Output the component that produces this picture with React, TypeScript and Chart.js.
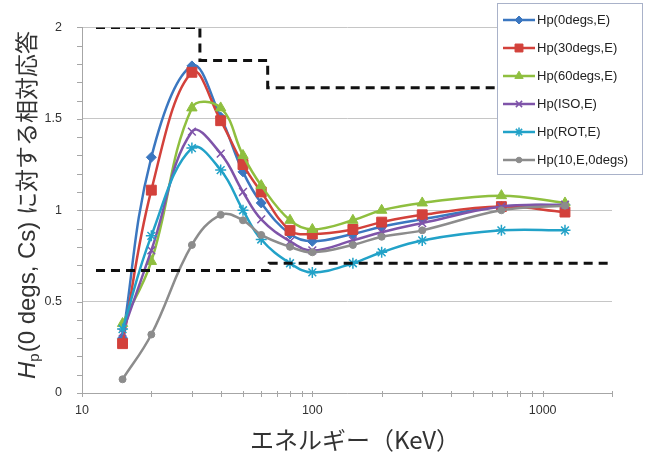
import React, { useEffect, useRef } from 'react';
import { Chart, registerables } from 'chart.js';
import { drawPoint } from 'chart.js/helpers';

Chart.register(...registerables);

// Photon energies (keV) at which each response was evaluated
const energies = [15, 20, 30, 40, 50, 60, 80, 100, 150, 200, 300, 662, 1250];

// Relative responses normalised to Hp(0 degs, Cs)
const hp0degs = [0.3, 1.29, 1.79, 1.51, 1.21, 1.04, 0.87, 0.83, 0.87, 0.91, 0.95, 1.02, 1.03];
const hp30degs = [0.27, 1.11, 1.755, 1.49, 1.25, 1.1, 0.89, 0.87, 0.895, 0.935, 0.975, 1.02, 0.99];
const hp60degs = [0.38, 0.72, 1.56, 1.56, 1.3, 1.135, 0.945, 0.895, 0.945, 1.0, 1.04, 1.08, 1.04];
const hpIso = [0.33, 0.78, 1.43, 1.31, 1.1, 0.95, 0.83, 0.78, 0.835, 0.88, 0.93, 1.02, 1.03];
const hpRot = [0.35, 0.86, 1.34, 1.22, 1.0, 0.84, 0.71, 0.66, 0.71, 0.77, 0.835, 0.89, 0.89];
const hp10 = [0.075, 0.32, 0.81, 0.975, 0.945, 0.865, 0.8, 0.77, 0.81, 0.855, 0.89, 1.0, 1.025];

const seriesNames = [
  'Hp(0degs,E)',
  'Hp(30degs,E)',
  'Hp(60degs,E)',
  'Hp(ISO,E)',
  'Hp(ROT,E)',
  'Hp(10,E,0degs)',
];

// Upper and lower tolerance limits (stepped)
const upperLimitE = [11.5, 32.5, 32.5, 64, 64, 2000];
const upperLimitR = [2, 2, 1.82, 1.82, 1.67, 1.67];
const lowerLimitE = [11.5, 65, 65, 2000];
const lowerLimitR = [0.67, 0.67, 0.71, 0.71];

// Axis ranges and labelled ticks
const xMin = 10;
const xMax = 2000;
const xTickValues = [10, 100, 1000];
const yMin = 0;
const yMax = 2;
const yStep = 0.5;
const yMinorStep = 0.1;

const xTitle = 'エネルギー（KeV）';
const yTitleLatin = '(0 degs, Cs) ';
const yTitleJa = 'に対する相対応答';

const seriesValues = [hp0degs, hp30degs, hp60degs, hpIso, hpRot, hp10];

const seriesStyles = [
  { color: '#3b77c0', pointStyle: 'rectRot', radius: 5, pointBorderWidth: 1 },
  { color: '#d3413b', pointStyle: 'rect', radius: 7, pointBorderWidth: 1 },
  { color: '#8fbf3f', pointStyle: 'triangle', radius: 6, pointBorderWidth: 1 },
  { color: '#7f54a9', pointStyle: 'crossRot', radius: 5.5, pointBorderWidth: 1.5 },
  { color: '#22a2c8', pointStyle: 'star', radius: 5.5, pointBorderWidth: 1.5 },
  { color: '#8c8c8c', pointStyle: 'circle', radius: 3.5, pointBorderWidth: 1 },
];

const CJK = '"Noto Sans CJK JP", "Noto Sans", sans-serif';
const LATIN = '"Liberation Sans", "Noto Sans", sans-serif';

const decorPlugin = {
  id: 'decor',
  afterDraw(chart: any) {
    const { ctx, chartArea, scales } = chart;
    const xs = scales.x;
    const ys = scales.y;
    ctx.save();

    // minor tick marks on the y axis
    ctx.strokeStyle = '#a6a6a6';
    ctx.lineWidth = 1;
    ctx.beginPath();
    for (let v = yMin; v <= yMax + 1e-9; v += yMinorStep) {
      const py = Math.round(ys.getPixelForValue(v)) + 0.5;
      ctx.moveTo(chartArea.left - 5, py);
      ctx.lineTo(chartArea.left, py);
    }
    // tick marks on the log x axis
    for (let dec = xMin; dec <= xMax; dec *= 10) {
      for (let m = 1; m <= 9; m++) {
        const v = dec * m;
        if (v > xMax) break;
        const px = Math.round(xs.getPixelForValue(v)) + 0.5;
        ctx.moveTo(px, chartArea.bottom - 2);
        ctx.lineTo(px, chartArea.bottom + 4);
      }
    }
    ctx.stroke();

    // x axis title
    ctx.fillStyle = '#333';
    ctx.font = `24px ${CJK}`;
    ctx.textAlign = 'center';
    ctx.textBaseline = 'middle';
    ctx.fillText(xTitle, 355, 440);

    // y axis title: italic H, subscript p, then the rest
    ctx.save();
    ctx.translate(26, 205);
    ctx.rotate(-Math.PI / 2);
    ctx.textAlign = 'left';
    ctx.textBaseline = 'alphabetic';
    const fH = `italic 24px ${LATIN}`;
    const fP = `15px ${LATIN}`;
    const fL = `24px ${LATIN}`;
    const fJ = `23px ${CJK}`;
    ctx.font = fH;
    const wH = ctx.measureText('H').width;
    ctx.font = fP;
    const wP = ctx.measureText('p').width;
    ctx.font = fL;
    const wL = ctx.measureText(yTitleLatin).width;
    ctx.font = fJ;
    const wJ = ctx.measureText(yTitleJa).width;
    let tx = -(wH + wP + 1 + wL + wJ) / 2;
    ctx.font = fH;
    ctx.fillText('H', tx, 9);
    tx += wH;
    ctx.font = fP;
    ctx.fillText('p', tx, 13);
    tx += wP + 1;
    ctx.font = fL;
    ctx.fillText(yTitleLatin, tx, 9);
    tx += wL;
    ctx.font = fJ;
    ctx.fillText(yTitleJa, tx, 9);
    ctx.restore();

    // legend box on top of the plot
    const bx = 497.5;
    const by = 3.5;
    const bw = 145;
    const bh = 171;
    ctx.fillStyle = '#ffffff';
    ctx.fillRect(bx, by, bw, bh);
    ctx.strokeStyle = '#a9b2c9';
    ctx.lineWidth = 1;
    ctx.strokeRect(bx, by, bw, bh);
    seriesNames.forEach((name, i) => {
      const st = seriesStyles[i];
      const cy = 20 + i * 28;
      ctx.strokeStyle = st.color;
      ctx.fillStyle = st.color;
      ctx.lineWidth = 2.5;
      ctx.beginPath();
      ctx.moveTo(503, cy);
      ctx.lineTo(535, cy);
      ctx.stroke();
      ctx.lineWidth = st.pointBorderWidth;
      drawPoint(ctx, { pointStyle: st.pointStyle, radius: st.radius * 0.8, rotation: 0, borderWidth: st.pointBorderWidth }, 519, cy);
      ctx.fillStyle = '#222';
      ctx.font = `13px ${LATIN}`;
      ctx.textAlign = 'left';
      ctx.textBaseline = 'middle';
      ctx.fillText(name, 537, cy);
    });

    ctx.restore();
  },
};

export default function App() {
  const canvasRef = useRef<HTMLCanvasElement | null>(null);

  useEffect(() => {
    document.body.style.margin = '0';
    const canvas = canvasRef.current;
    if (!canvas) return;

    const seriesSets = seriesValues.map((vals, i) => {
      const st = seriesStyles[i];
      return {
        label: seriesNames[i],
        data: energies.map((e, k) => ({ x: e, y: vals[k] })),
        borderColor: st.color,
        backgroundColor: st.color,
        borderWidth: 2.5,
        pointStyle: st.pointStyle,
        pointRadius: st.radius,
        pointBorderWidth: st.pointBorderWidth,
        pointBackgroundColor: st.color,
        pointBorderColor: st.color,
        tension: 0.4,
        order: seriesValues.length - i,
      };
    });

    const limitStyle = {
      borderColor: '#111',
      borderWidth: 3,
      borderDash: [9, 6],
      pointRadius: 0,
      tension: 0,
      order: 0,
    };

    const chart = new Chart(canvas, {
      type: 'line',
      data: {
        datasets: [
          ...seriesSets,
          {
            label: 'upper',
            data: upperLimitE.map((e, k) => ({ x: e, y: upperLimitR[k] })),
            ...limitStyle,
          },
          {
            label: 'lower',
            data: lowerLimitE.map((e, k) => ({ x: e, y: lowerLimitR[k] })),
            ...limitStyle,
          },
        ] as any,
      },
      options: {
        animation: false,
        responsive: false,
        layout: { padding: { top: 23, right: 34, left: 0, bottom: 0 } },
        plugins: {
          legend: { display: false },
          tooltip: { enabled: false },
        },
        scales: {
          x: {
            type: 'logarithmic',
            min: xMin,
            max: xMax,
            afterBuildTicks: (scale: any) => {
              scale.ticks = xTickValues.map((v) => ({ value: v, major: true }));
            },
            afterFit: (scale: any) => {
              scale.height = 64;
            },
            ticks: {
              callback: (v: any) => String(v),
              color: '#333',
              font: { family: LATIN, size: 12.5 },
              padding: 10,
              maxRotation: 0,
              autoSkip: false,
            },
            grid: { display: false, drawTicks: false },
            border: { display: true, color: '#a6a6a6', width: 1 },
          },
          y: {
            type: 'linear',
            min: yMin,
            max: yMax,
            afterFit: (scale: any) => {
              scale.width = 82;
            },
            ticks: {
              stepSize: yStep,
              callback: (v: any) => String(v),
              color: '#333',
              font: { family: LATIN, size: 12.5 },
              padding: 20,
            },
            grid: { color: '#c6c6c6', lineWidth: 1, drawTicks: false },
            border: { display: true, color: '#a6a6a6', width: 1 },
          },
        },
      } as any,
      plugins: [decorPlugin],
    });

    return () => chart.destroy();
  }, []);

  return (
    <div style={{ width: 646, height: 457, background: '#fff' }}>
      <canvas ref={canvasRef} width={646} height={457} />
    </div>
  );
}
